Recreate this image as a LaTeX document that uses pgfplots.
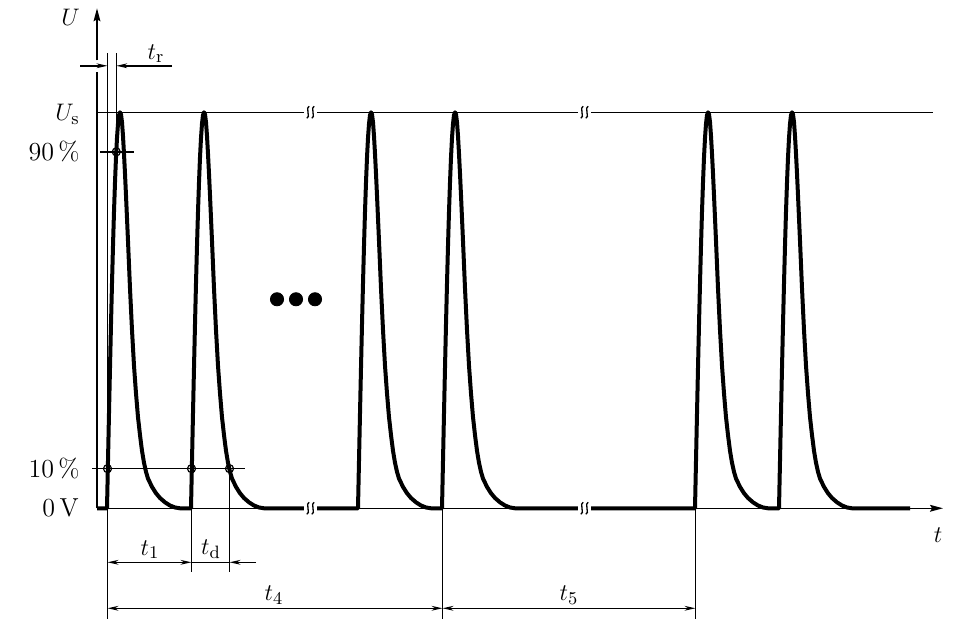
\documentclass[border=0pt]{standalone}
\usepackage{pgfplots}
\pgfplotsset{compat=1.18}
\usetikzlibrary{arrows.meta}

% x: time (drawing units), y: U as a fraction of U_s (0 V = 0, U_s = 1)
\pgfplotstableread{
t u
97 0
107 0
108 0.12
109 0.24
110 0.355
111 0.465
112 0.568
113 0.663
114 0.749
115 0.823
116 0.886
117 0.935
118 0.971
119 0.993
120 1
121 0.995
122 0.975
123 0.94
124 0.895
125 0.845
126 0.79
128 0.675
130 0.555
132 0.45
134 0.36
136 0.29
138 0.23
140 0.185
142 0.145
144 0.115
146 0.092
148 0.075
152 0.054
156 0.038
160 0.026
165 0.015
170 0.007
175 0.002
180 0
191 0
192 0.12
193 0.24
194 0.355
195 0.465
196 0.568
197 0.663
198 0.749
199 0.823
200 0.886
201 0.935
202 0.971
203 0.993
204 1
205 0.995
206 0.975
207 0.94
208 0.895
209 0.845
210 0.79
212 0.675
214 0.555
216 0.45
218 0.36
220 0.29
222 0.23
224 0.185
226 0.145
228 0.115
230 0.092
232 0.075
236 0.054
240 0.038
244 0.026
249 0.015
254 0.007
259 0.002
264 0
358 0
359 0.12
360 0.24
361 0.355
362 0.465
363 0.568
364 0.663
365 0.749
366 0.823
367 0.886
368 0.935
369 0.971
370 0.993
371 1
372 0.995
373 0.975
374 0.94
375 0.895
376 0.845
377 0.79
379 0.675
381 0.555
383 0.45
385 0.36
387 0.29
389 0.23
391 0.185
393 0.145
395 0.115
397 0.092
399 0.075
403 0.054
407 0.038
411 0.026
416 0.015
421 0.007
426 0.002
431 0
442 0
443 0.12
444 0.24
445 0.355
446 0.465
447 0.568
448 0.663
449 0.749
450 0.823
451 0.886
452 0.935
453 0.971
454 0.993
455 1
456 0.995
457 0.975
458 0.94
459 0.895
460 0.845
461 0.79
463 0.675
465 0.555
467 0.45
469 0.36
471 0.29
473 0.23
475 0.185
477 0.145
479 0.115
481 0.092
483 0.075
487 0.054
491 0.038
495 0.026
500 0.015
505 0.007
510 0.002
515 0
695 0
696 0.12
697 0.24
698 0.355
699 0.465
700 0.568
701 0.663
702 0.749
703 0.823
704 0.886
705 0.935
706 0.971
707 0.993
708 1
709 0.995
710 0.975
711 0.94
712 0.895
713 0.845
714 0.79
716 0.675
718 0.555
720 0.45
722 0.36
724 0.29
726 0.23
728 0.185
730 0.145
732 0.115
734 0.092
736 0.075
740 0.054
744 0.038
748 0.026
753 0.015
758 0.007
763 0.002
768 0
779 0
780 0.12
781 0.24
782 0.355
783 0.465
784 0.568
785 0.663
786 0.749
787 0.823
788 0.886
789 0.935
790 0.971
791 0.993
792 1
793 0.995
794 0.975
795 0.94
796 0.895
797 0.845
798 0.79
800 0.675
802 0.555
804 0.45
806 0.36
808 0.29
810 0.23
812 0.185
814 0.145
816 0.115
818 0.092
820 0.075
824 0.054
828 0.038
832 0.026
837 0.015
842 0.007
847 0.002
852 0
910 0
}\pulses

\begin{document}
\fontsize{13bp}{15bp}\selectfont
\begin{tikzpicture}[
  thinl/.style={line width=0.75bp},
  brkl/.style={line width=0.65bp},
  dimarr/.style={line width=0.75bp, -{Stealth[length=5.5bp,width=2.4bp]}},
  dimboth/.style={line width=0.75bp, {Stealth[length=5.5bp,width=2.4bp]}-{Stealth[length=5.5bp,width=2.4bp]}},
]
\begin{axis}[
  scale only axis, width=487.5bp, height=315.5bp,
  xmin=0, xmax=975, ymin=-0.310606, ymax=1.282828,
  hide axis, clip=false,
]
\path (rel axis cs:0,0) rectangle (rel axis cs:1,1);

% axes
\draw[thinl] (axis cs:97,0) -- (axis cs:97,1.101);
\draw[thinl, -{Stealth[length=6.5bp,width=3.4bp,inset=1bp]}] (axis cs:97,1.131) -- (axis cs:97,1.2626);
\draw[thinl, -{Stealth[length=6.5bp,width=3.4bp,inset=1bp]}] (axis cs:97,0) -- (axis cs:943,0);
\draw[thinl] (axis cs:97,1) -- (axis cs:933,1);

% reference levels
\draw[thinl] (axis cs:100,0.9) -- (axis cs:134,0.9);
\draw[thinl] (axis cs:92,0.1) -- (axis cs:245,0.1);

% extension lines
\draw[thinl] (axis cs:107.5,1.149) -- (axis cs:107.5,-0.2803);
\draw[thinl] (axis cs:116.3,1.149) -- (axis cs:116.3,0.9);
\draw[thinl] (axis cs:191.5,0.1) -- (axis cs:191.5,-0.1616);
\draw[thinl] (axis cs:229.5,0.1) -- (axis cs:229.5,-0.1616);
\draw[thinl] (axis cs:442.5,0) -- (axis cs:442.5,-0.2803);
\draw[thinl] (axis cs:695.5,0) -- (axis cs:695.5,-0.2803);

% dimension lines
\draw[dimarr] (axis cs:80,1.1174) -- (axis cs:107.5,1.1174);
\draw[dimarr] (axis cs:172,1.1174) -- (axis cs:116.3,1.1174);
\draw[dimboth] (axis cs:107.5,-0.1364) -- (axis cs:191.5,-0.1364);
\draw[thinl] (axis cs:191.5,-0.1364) -- (axis cs:229.5,-0.1364);
\draw[dimarr] (axis cs:256,-0.1364) -- (axis cs:229.5,-0.1364);
\draw[dimboth] (axis cs:107.5,-0.2525) -- (axis cs:442.5,-0.2525);
\draw[dimboth] (axis cs:442.5,-0.2525) -- (axis cs:695.5,-0.2525);

% pulses
\addplot[line width=2bp, line join=round, black, mark=none] table[x=t, y=u] {\pulses};

% measuring points
\addplot[only marks, mark=o, mark size=2bp, mark options={line width=0.6bp, black}] coordinates {
  (116.3,0.9) (107.5,0.1) (191.5,0.1) (229.5,0.1)
};

% ellipsis dots
\addplot[only marks, mark=*, mark size=3.3bp, black] coordinates {
  (277,0.5278) (296,0.5278) (315,0.5278)
};

% break marks: gaps
\fill[white] (axis cs:303.5,1.008) rectangle (axis cs:316.5,0.992);
\fill[white] (axis cs:303.5,0.009) rectangle (axis cs:316.5,-0.009);
\fill[white] (axis cs:577.5,1.008) rectangle (axis cs:590.5,0.992);
\fill[white] (axis cs:577.5,0.009) rectangle (axis cs:590.5,-0.009);
% break marks: strokes
\draw[brkl] (axis cs:309.2,1.0152) .. controls (axis cs:305,1.0152) and (axis cs:311,0.9848) .. (axis cs:306.8,0.9848);
\draw[brkl] (axis cs:314.2,1.0152) .. controls (axis cs:310,1.0152) and (axis cs:316,0.9848) .. (axis cs:311.8,0.9848);
\draw[brkl] (axis cs:309.2,0.0152) .. controls (axis cs:305,0.0152) and (axis cs:311,-0.0152) .. (axis cs:306.8,-0.0152);
\draw[brkl] (axis cs:314.2,0.0152) .. controls (axis cs:310,0.0152) and (axis cs:316,-0.0152) .. (axis cs:311.8,-0.0152);
\draw[brkl] (axis cs:583.2,1.0152) .. controls (axis cs:579,1.0152) and (axis cs:585,0.9848) .. (axis cs:580.8,0.9848);
\draw[brkl] (axis cs:588.2,1.0152) .. controls (axis cs:584,1.0152) and (axis cs:590,0.9848) .. (axis cs:585.8,0.9848);
\draw[brkl] (axis cs:583.2,0.0152) .. controls (axis cs:579,0.0152) and (axis cs:585,-0.0152) .. (axis cs:580.8,-0.0152);
\draw[brkl] (axis cs:588.2,0.0152) .. controls (axis cs:584,0.0152) and (axis cs:590,-0.0152) .. (axis cs:585.8,-0.0152);

% labels
\node at (axis cs:70.5,1.241) {$U$};
\node[anchor=east, inner sep=0pt] at (axis cs:80,0.995) {$U_\mathrm{s}$};
\node[anchor=east, inner sep=0pt] at (axis cs:80,0.9) {90\,\%};
\node[anchor=east, inner sep=0pt] at (axis cs:80,0.1) {10\,\%};
\node[anchor=east, inner sep=0pt] at (axis cs:79,0) {0\,V};
\node at (axis cs:156,1.148) {$t_\mathrm{r}$};
\node at (axis cs:150,-0.104) {$t_1$};
\node at (axis cs:211,-0.104) {$t_\mathrm{d}$};
\node at (axis cs:274,-0.219) {$t_4$};
\node at (axis cs:569,-0.219) {$t_5$};
\node at (axis cs:938,-0.068) {$t$};
\end{axis}
\end{tikzpicture}
\end{document}
